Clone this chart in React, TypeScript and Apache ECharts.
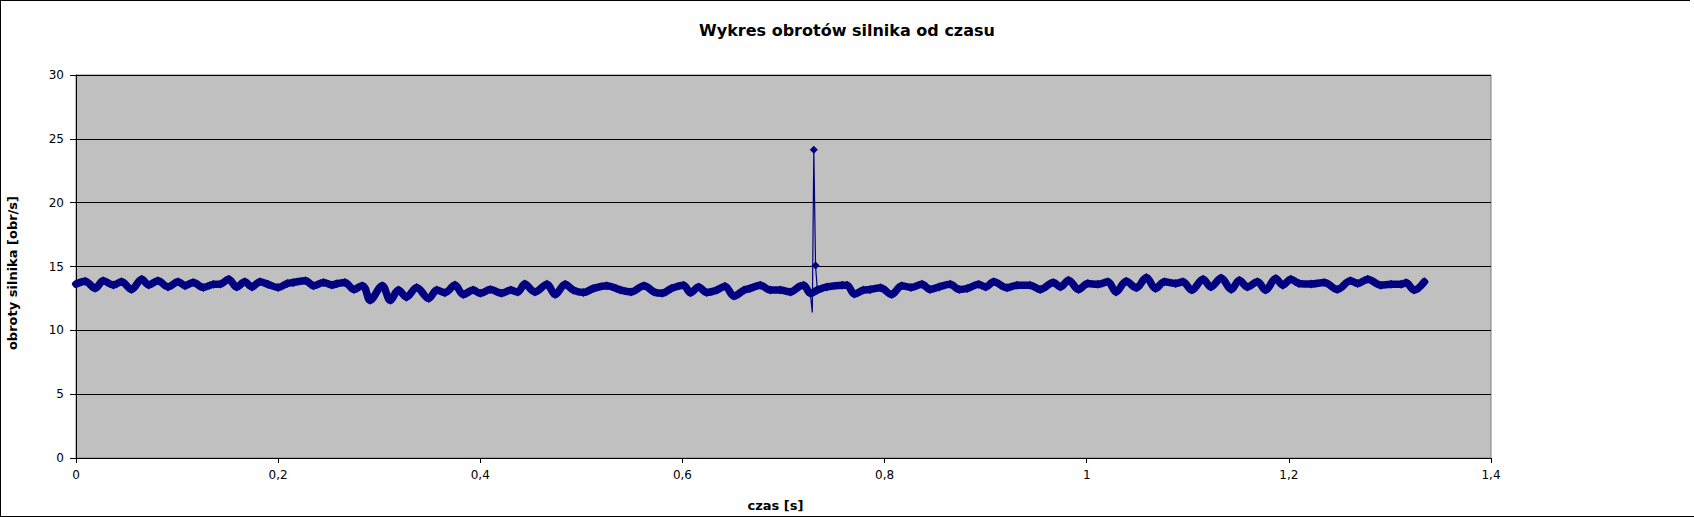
import React, { useEffect, useRef } from "react";
import * as echarts from "echarts";

// time [s] of each sample (band part of the curve)
const times: number[] = [
  0.0, 0.009, 0.019, 0.027, 0.037, 0.045, 0.055, 0.065, 0.072, 0.081,
  0.091, 0.101, 0.108, 0.116, 0.126, 0.136, 0.143, 0.151, 0.159, 0.167,
  0.174, 0.182, 0.19, 0.2, 0.209, 0.215, 0.227, 0.235, 0.245, 0.253,
  0.258, 0.266, 0.275, 0.283, 0.286, 0.291, 0.303, 0.311, 0.319, 0.327,
  0.337, 0.349, 0.357, 0.365, 0.375, 0.383, 0.393, 0.4, 0.41, 0.421,
  0.43, 0.437, 0.444, 0.454, 0.466, 0.474, 0.484, 0.492, 0.502, 0.512,
  0.525, 0.539, 0.549, 0.562, 0.572, 0.58, 0.589, 0.601, 0.608, 0.616,
  0.624, 0.634, 0.642, 0.651, 0.661, 0.667, 0.677, 0.687, 0.697, 0.707,
  0.715, 0.72, 0.7265, 0.7335, 0.743, 0.758, 0.763, 0.77, 0.779, 0.786,
  0.796, 0.807, 0.817, 0.826, 0.837, 0.845, 0.854, 0.865, 0.874, 0.882,
  0.893, 0.9, 0.908, 0.921, 0.931, 0.944, 0.954, 0.967, 0.974, 0.982,
  0.992, 1.001, 1.011, 1.021, 1.029, 1.039, 1.049, 1.059, 1.068, 1.077,
  1.088, 1.095, 1.104, 1.115, 1.123, 1.133, 1.143, 1.151, 1.159, 1.169,
  1.177, 1.187, 1.194, 1.202, 1.21, 1.222, 1.235, 1.248, 1.261, 1.268,
  1.278, 1.291, 1.301, 1.311, 1.316, 1.324, 1.334,
];

// engine speed [obr/s] at each sample
const rpm: number[] = [
  13.62, 13.85, 13.3, 13.88, 13.55, 13.8, 13.2, 14.0, 13.55, 13.88,
  13.4, 13.8, 13.5, 13.75, 13.36, 13.6, 13.62, 14.0, 13.4, 13.8,
  13.4, 13.8, 13.6, 13.36, 13.67, 13.75, 13.88, 13.5, 13.75, 13.55,
  13.65, 13.75, 13.2, 13.5, 13.3, 12.35, 13.5, 12.35, 13.15, 12.6,
  13.36, 12.5, 13.15, 12.95, 13.55, 12.8, 13.15, 12.9, 13.2, 12.9,
  13.15, 13.0, 13.62, 13.0, 13.6, 12.8, 13.6, 13.15, 12.97, 13.28,
  13.5, 13.15, 13.0, 13.5, 13.0, 12.9, 13.28, 13.54, 12.94, 13.4,
  12.97, 13.15, 13.46, 12.68, 13.15, 13.28, 13.54, 13.15, 13.15, 13.0,
  13.4, 13.54, 12.9, 13.15, 13.4, 13.54, 13.54, 12.84, 13.15, 13.2,
  13.33, 12.8, 13.5, 13.36, 13.6, 13.2, 13.4, 13.6, 13.2, 13.28,
  13.6, 13.4, 13.8, 13.33, 13.54, 13.54, 13.2, 13.75, 13.4, 13.93,
  13.2, 13.67, 13.6, 13.8, 13.0, 13.85, 13.33, 14.14, 13.28, 13.8,
  13.67, 13.8, 13.15, 14.0, 13.4, 14.1, 13.2, 13.93, 13.4, 13.8,
  13.15, 14.06, 13.54, 14.0, 13.67, 13.62, 13.75, 13.2, 13.88, 13.67,
  14.0, 13.54, 13.6, 13.6, 13.72, 13.15, 13.8,
];

// the short spike near 0.73 s (drawn as a thin line)
const spikeTimes: number[] = [0.7265, 0.7285, 0.73, 0.7317, 0.7335];
const spikeRpm: number[] = [12.9, 11.4, 24.15, 15.08, 13.15];
const spikeMarked: boolean[] = [false, false, true, true, false];

const xTickLabels: string[] = ["0", "0,2", "0,4", "0,6", "0,8", "1", "1,2", "1,4"];
const yTickLabels: string[] = ["0", "5", "10", "15", "20", "25", "30"];

const chartTitle = "Wykres obrotów silnika od czasu";
const xTitle = "czas [s]";
const yTitle = "obroty silnika [obr/s]";

const FONT = '"DejaVu Sans", sans-serif';

export default function App() {
  const ref = useRef<HTMLDivElement>(null);

  useEffect(() => {
    if (!ref.current) return;
    const chart = echarts.init(ref.current, null, { renderer: "svg" });
    const band = times.map((t, i) => [t, rpm[i]]);
    const spike = spikeTimes.map((t, i) => ({
      value: [t, spikeRpm[i]],
      symbol: spikeMarked[i] ? "diamond" : "none",
    }));

    chart.setOption({
      animation: false,
      backgroundColor: "#ffffff",
      grid: {
        left: 76,
        top: 75,
        width: 1415,
        height: 383,
        show: true,
        backgroundColor: "#c0c0c0",
        borderColor: "#808080",
        borderWidth: 1,
      },
      xAxis: {
        type: "value",
        min: 0,
        max: 1.4,
        interval: 0.2,
        axisLine: { show: true, onZero: false, lineStyle: { color: "#000", width: 1 } },
        axisTick: { show: true, length: 5, lineStyle: { color: "#000" } },
        axisLabel: {
          margin: 11,
          color: "#000",
          fontFamily: FONT,
          fontSize: 12,
          formatter: (v: number) => xTickLabels[Math.round(v / 0.2)] ?? "",
        },
        splitLine: { show: false },
      },
      yAxis: {
        type: "value",
        min: 0,
        max: 30,
        interval: 5,
        axisLine: { show: true, lineStyle: { color: "#000", width: 1 } },
        axisTick: { show: true, length: 6, lineStyle: { color: "#000" } },
        axisLabel: {
          margin: 12,
          color: "#000",
          fontFamily: FONT,
          fontSize: 12,
          formatter: (v: number) => yTickLabels[Math.round(v / 5)] ?? "",
        },
        splitLine: { show: true, lineStyle: { color: "#000", width: 1 } },
      },
      series: [
        {
          type: "line",
          data: band,
          smooth: 0.35,
          symbol: "diamond",
          symbolSize: 9,
          showAllSymbol: true,
          itemStyle: { color: "#000080" },
          lineStyle: { color: "#000080", width: 7.5, join: "round", cap: "round" },
          z: 3,
        },
        {
          type: "line",
          data: spike,
          symbol: "diamond",
          symbolSize: 8,
          showAllSymbol: true,
          itemStyle: { color: "#000080" },
          lineStyle: { color: "#000080", width: 1.2 },
          z: 4,
        },
      ],
      graphic: [
        { type: "line", shape: { x1: 0, y1: 0.5, x2: 1690, y2: 0.5 }, style: { stroke: "#000", lineWidth: 1 } },
        { type: "line", shape: { x1: 0.5, y1: 0, x2: 0.5, y2: 517 }, style: { stroke: "#000", lineWidth: 1 } },
        { type: "line", shape: { x1: 0, y1: 516.5, x2: 1694, y2: 516.5 }, style: { stroke: "#000", lineWidth: 1 } },
        {
          type: "text",
          x: 847,
          y: 30,
          style: {
            text: chartTitle,
            font: `bold 16px ${FONT}`,
            fill: "#000",
            align: "center",
            verticalAlign: "middle",
          },
        },
        {
          type: "text",
          x: 775.5,
          y: 505,
          style: {
            text: xTitle,
            font: `bold 13px ${FONT}`,
            fill: "#000",
            align: "center",
            verticalAlign: "middle",
          },
        },
        {
          type: "text",
          x: 12.5,
          y: 273,
          rotation: Math.PI / 2,
          style: {
            text: yTitle,
            font: `bold 13px ${FONT}`,
            fill: "#000",
            align: "center",
            verticalAlign: "middle",
          },
        },
      ],
    });

    return () => chart.dispose();
  }, []);

  return (
    <div
      ref={ref}
      style={{ position: "fixed", left: 0, top: 0, width: 1694, height: 517, background: "#fff" }}
    />
  );
}
